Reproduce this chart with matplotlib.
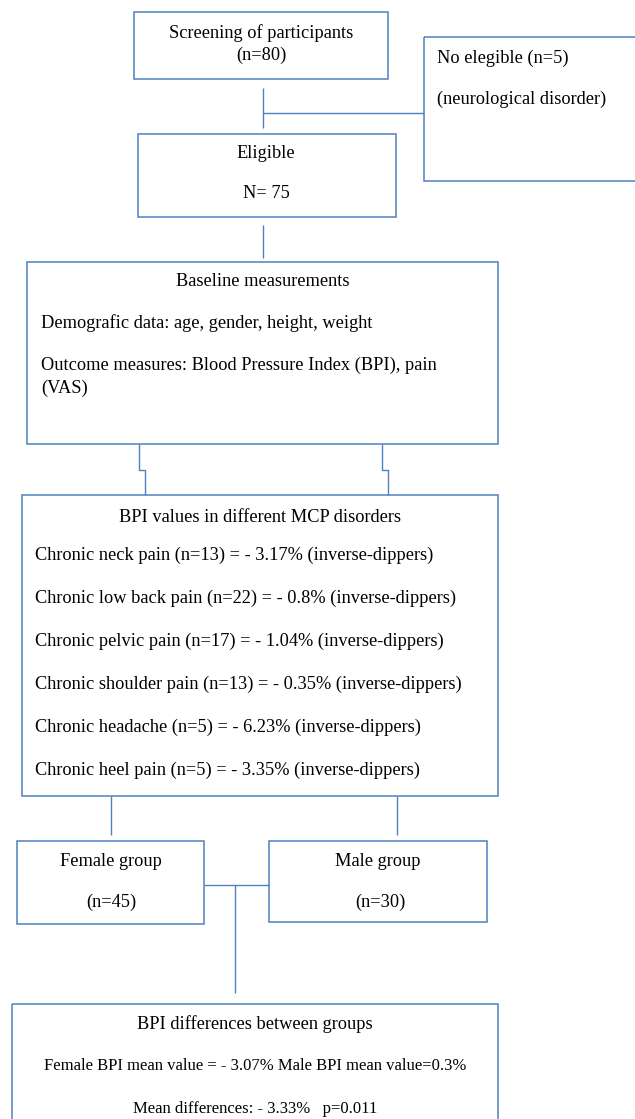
import matplotlib.pyplot as plt
from matplotlib.patches import Rectangle

plt.rcParams['font.family'] = ['Liberation Serif', 'DejaVu Serif']

# texts of the flow chart
screening = ["Screening of participants", "(n=80)"]
excluded = ["No elegible (n=5)", "(neurological disorder)"]
eligible = ["Eligible", "N= 75"]
baseline_title = "Baseline measurements"
baseline_lines = ["Demografic data: age, gender, height, weight",
                  "Outcome measures: Blood Pressure Index (BPI), pain",
                  "(VAS)"]
bpi_title = "BPI values in different MCP disorders"
disorders = ["Chronic neck pain", "Chronic low back pain", "Chronic pelvic pain",
             "Chronic shoulder pain", "Chronic headache", "Chronic heel pain"]
disorder_n = [13, 22, 17, 13, 5, 5]
disorder_bpi = ["- 3.17%", "- 0.8%", "- 1.04%", "- 0.35%", "- 6.23%", "- 3.35%"]
female = ["Female group", "(n=45)"]
male = ["Male group", "(n=30)"]
diff_lines = ["BPI differences between groups",
              "Female BPI mean value = - 3.07% Male BPI mean value=0.3%",
              "Mean differences: - 3.33%   p=0.011"]

col = "#4F81BD"
fs = 13.2

fig = plt.figure(figsize=(6.35, 11.19), dpi=100)
ax = fig.add_axes([0, 0, 1, 1])
ax.set_xlim(0, 635)
ax.set_ylim(1119, 0)
ax.axis('off')


def box(x0, y0, x1, y1):
    ax.add_patch(Rectangle((x0, y0), x1 - x0, y1 - y0, fill=False,
                           edgecolor=col, lw=1.1, clip_on=False))


def line(xs, ys):
    ax.plot(xs, ys, color=col, lw=1.0, solid_capstyle='butt')


def txt(x, y, s, ha='center', size=fs):
    # small offset so the glyphs sit like in the reference
    ax.text(x, y + 2, s, ha=ha, va='center', fontsize=size, color='black')


# screening
box(134, 12, 388, 79)
txt(261, 31, screening[0])
txt(261, 53, screening[1])

# excluded
box(424, 37, 640, 181)
txt(437, 56, excluded[0], ha='left')
txt(437, 97, excluded[1], ha='left')

line([263, 263], [88, 128])
line([263, 424], [113, 113])

# eligible
box(138, 134, 396, 217)
txt(266, 152, eligible[0])
txt(266, 192, eligible[1])

line([263, 263], [225, 258])

# baseline
box(27, 262, 498, 444)
txt(263, 280, baseline_title)
for y, s in zip([321, 363, 386], baseline_lines):
    txt(41, y, s, ha='left')

line([139, 139, 145, 145], [444, 470, 470, 495])
line([382, 382, 388, 388], [444, 470, 470, 495])

# BPI values
box(22, 495, 498, 796)
txt(260, 515, bpi_title)
for i, (d, n, b) in enumerate(zip(disorders, disorder_n, disorder_bpi)):
    y = 553 + i * 43
    txt(35, y, f"{d} (n={n}) = {b} (inverse-dippers)", ha='left')

line([111, 111], [796, 835])
line([397, 397], [796, 835])

# groups
box(17, 841, 204, 924)
txt(111, 860, female[0])
txt(111, 900, female[1])
box(269, 841, 487, 922)
txt(378, 860, male[0])
txt(380, 900, male[1])

line([204, 269], [885, 885])
line([235, 235], [885, 993])

# differences
box(12, 1004, 498, 1140)
txt(255, 1022, diff_lines[0])
txt(255, 1064, diff_lines[1], size=12.0)
txt(255, 1107, diff_lines[2], size=12.0)

fig.savefig("out.png", dpi=100)
